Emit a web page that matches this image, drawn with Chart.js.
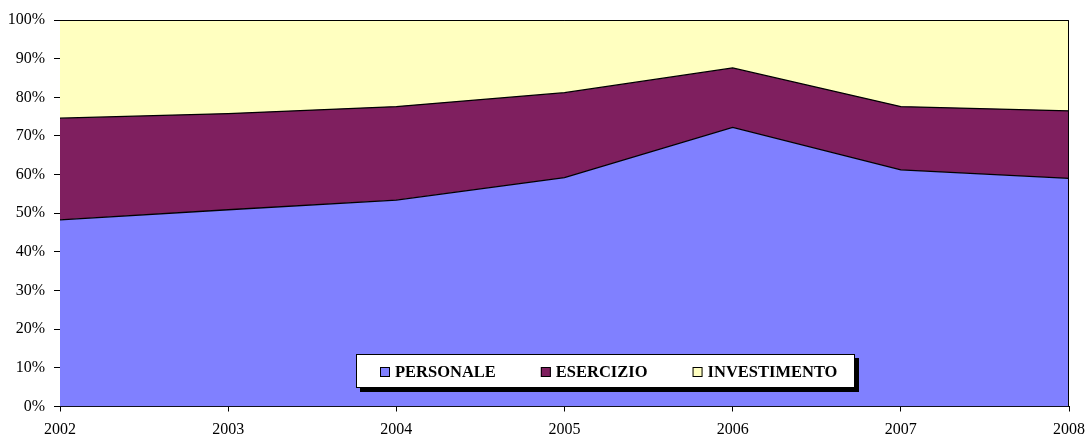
<!DOCTYPE html>
<html>
<head>
<meta charset="utf-8">
<script src="https://cdn.jsdelivr.net/npm/chart.js@4/dist/chart.umd.min.js"></script>
<style>
html,body{margin:0;padding:0;background:#fff;}
#wrap{width:1087px;height:439px;}
</style>
</head>
<body>
<div id="wrap"><canvas id="c" width="1087" height="439"></canvas></div>
<script>
const years = ['2002','2003','2004','2005','2006','2007','2008'];
const personale    = [48.3, 50.9, 53.4, 59.2, 72.2, 61.2, 59.0];
const esercizio    = [26.3, 24.9, 24.2, 22.0, 15.4, 16.4, 17.5];
const investimento = [25.4, 24.2, 22.4, 18.8, 12.4, 22.4, 23.5];
const seriesNames  = ['PERSONALE', 'ESERCIZIO', 'INVESTIMENTO'];
const seriesColors = ['#8080FF', '#7F1F5F', '#FFFFC0'];
const yTicks = [0,10,20,30,40,50,60,70,80,90,100];

const serif = "'Liberation Serif', 'Times New Roman', serif";

const frame = {
  id: 'frame',
  afterDatasetsDraw(chart) {
    const {ctx, chartArea: a} = chart;
    ctx.save();
    ctx.strokeStyle = '#000';
    ctx.lineWidth = 1;
    ctx.beginPath();
    ctx.moveTo(a.left, a.top + 0.5);
    ctx.lineTo(a.right - 0.5, a.top + 0.5);
    ctx.lineTo(a.right - 0.5, a.bottom);
    ctx.stroke();
    ctx.restore();
  },
  afterDraw(chart) {
    const ctx = chart.ctx;
    const box = {x: 356, y: 354, w: 499, h: 34};
    ctx.save();
    ctx.fillStyle = '#000';
    ctx.fillRect(box.x + 4, box.y + 4, box.w, box.h);
    ctx.fillStyle = '#fff';
    ctx.fillRect(box.x, box.y, box.w, box.h);
    ctx.strokeStyle = '#000';
    ctx.lineWidth = 1;
    ctx.strokeRect(box.x + 0.5, box.y + 0.5, box.w - 1, box.h - 1);
    ctx.font = "bold 16.5px " + serif;
    ctx.textBaseline = 'middle';
    let x = 380;
    const cy = 372;
    chart.data.datasets.forEach((ds) => {
      ctx.fillStyle = ds.backgroundColor;
      ctx.fillRect(x, cy - 5, 10, 10);
      ctx.strokeStyle = '#000';
      ctx.strokeRect(x + 0.5, cy - 4.5, 9, 9);
      ctx.fillStyle = '#000';
      ctx.fillText(ds.label, x + 15, cy + 1);
      x += 15 + ctx.measureText(ds.label).width + 45;
    });
    ctx.restore();
  }
};

const dataArrays = [personale, esercizio, investimento];
new Chart(document.getElementById('c'), {
  type: 'line',
  data: {
    labels: years,
    datasets: dataArrays.map((arr, i) => ({
      label: seriesNames[i],
      data: arr,
      backgroundColor: seriesColors[i],
      borderColor: '#000',
      borderWidth: 1.3,
      pointRadius: 0,
      tension: 0,
      fill: i === 0 ? 'origin' : '-1'
    }))
  },
  options: {
    responsive: false,
    animation: false,
    layout: {padding: {top: 20, right: 18, left: 0, bottom: 0}},
    plugins: {legend: {display: false}, tooltip: {enabled: false}},
    scales: {
      x: {
        offset: false,
        grid: {drawOnChartArea: false, drawTicks: true, tickLength: 5, color: '#000'},
        border: {display: true, color: '#000', width: 1},
        ticks: {color: '#000', font: {family: serif, size: 16}, padding: 9, maxRotation: 0, autoSkip: false},
        afterFit(s) { s.height = 32.5; s.paddingRight = 0; s.paddingLeft = 0; }
      },
      y: {
        stacked: true,
        min: 0, max: 100,
        afterBuildTicks(s) { s.ticks = yTicks.map(v => ({value: v})); },
        grid: {drawOnChartArea: false, drawTicks: true, tickLength: 6, color: '#000'},
        border: {display: true, color: '#000', width: 1},
        ticks: {color: '#000', font: {family: serif, size: 16}, padding: 9, callback: v => v + '%'},
        afterFit(s) { s.width = 60; s.paddingTop = 0; s.paddingBottom = 0; }
      }
    }
  },
  plugins: [frame]
});
</script>
</body>
</html>
